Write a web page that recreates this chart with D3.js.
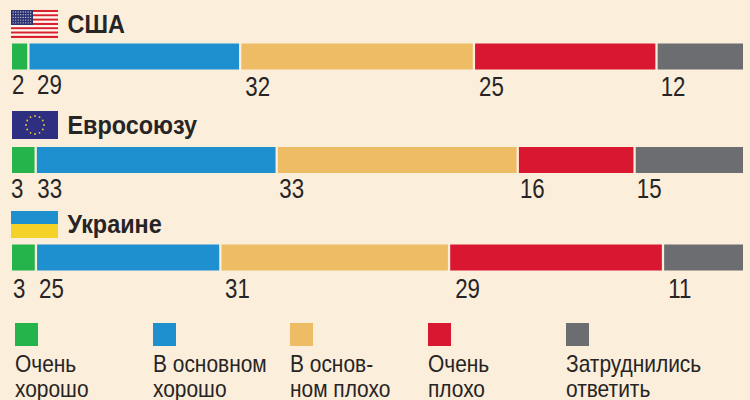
<!DOCTYPE html>
<html>
<head>
<meta charset="utf-8">
<script src="https://cdnjs.cloudflare.com/ajax/libs/d3/7.8.5/d3.min.js"></script>
<style>
  html, body { margin: 0; padding: 0; background: #fbeeda; }
  svg { display: block; }
  text { fill: #272425; font-family: "Liberation Sans", sans-serif; }
</style>
</head>
<body>
<div id="chart"></div>
<script>
const countries = ['США', 'Евросоюзу', 'Украине'];
const answers = ['Очень хорошо', 'В основном хорошо', 'В основном плохо', 'Очень плохо', 'Затруднились ответить'];
// the thin first segments are drawn a bit wider than their rounded label
const usaValues = [2.4, 29, 32, 25, 12];
const euValues = [3.4, 33, 33, 16, 15];
const ukraineValues = [3.4, 25, 31, 29, 11];
const answerColors = ['#25b44c', '#1e90d0', '#eebc65', '#d91731', '#6c6d71'];
const legendLines = [['Очень', 'хорошо'], ['В основном', 'хорошо'], ['В основ-', 'ном плохо'], ['Очень', 'плохо'], ['Затруднились', 'ответить']];

const svg = d3.select('#chart').append('svg').attr('width', 750).attr('height', 400);

const rows = [
  { name: countries[0], values: usaValues, barY: 43.5, titleY: 33, labelY: [94, 94, 96, 96, 96], nudge: [0, 7.5, 4, 4, 3] },
  { name: countries[1], values: euValues, barY: 147, titleY: 134, labelY: [198, 198, 198, 198, 198], nudge: [-1, 0.5, 1.5, 1, 1] },
  { name: countries[2], values: ukraineValues, barY: 244.5, titleY: 233, labelY: [298, 298, 298, 298, 298], nudge: [1, 2, 3.5, 5, 4] }
];

const barHeight = 26, gap = 2.3;

rows.forEach(row => {
  const total = d3.sum(row.values);
  const x = d3.scaleLinear().domain([0, total]).range([12, 743 + gap]);
  const starts = [0, ...d3.cumsum(row.values)];

  const g = svg.append('g');
  g.selectAll('rect')
    .data(row.values)
    .join('rect')
    .attr('x', (d, i) => x(starts[i]))
    .attr('y', row.barY)
    .attr('width', d => x(d) - x(0) - gap)
    .attr('height', barHeight)
    .attr('fill', (d, i) => answerColors[i]);

  g.selectAll('text.val')
    .data(row.values)
    .join('text')
    .attr('class', 'val')
    .attr('transform', (d, i) => `translate(${x(starts[i]) + row.nudge[i]},${row.labelY[i]}) scale(0.81,1)`)
    .attr('font-size', 27.5)
    .text(d => Math.round(d));

  svg.append('text')
    .attr('transform', `translate(67.5,${row.titleY}) scale(0.9,1)`)
    .attr('font-size', 26)
    .attr('font-weight', 'bold')
    .text(row.name);
});

// flags
const usa = svg.append('g').attr('transform', 'translate(11,10)');
const stripe = d3.scaleBand().domain(d3.range(13)).range([0, 28]);
usa.selectAll('rect')
  .data(d3.range(13))
  .join('rect')
  .attr('x', 0)
  .attr('y', d => stripe(d))
  .attr('width', 47)
  .attr('height', stripe.bandwidth())
  .attr('fill', d => d % 2 ? '#fdf6ee' : '#d9202f');
usa.append('rect').attr('width', 22).attr('height', 15).attr('fill', '#2c3170');
d3.range(5).forEach(r => {
  usa.selectAll('circle.r' + r)
    .data(d3.range(8))
    .join('circle')
    .attr('class', 'r' + r)
    .attr('cx', d => 2.2 + d * 2.5)
    .attr('cy', 2 + r * 2.7)
    .attr('r', 0.65)
    .attr('fill', '#c9cbdc');
});

const eu = svg.append('g').attr('transform', 'translate(12,111)');
eu.append('rect').attr('width', 46).attr('height', 28).attr('fill', '#2e2f80');
eu.selectAll('circle')
  .data(d3.range(12))
  .join('circle')
  .attr('cx', d => 23 + 9 * Math.sin(d * Math.PI / 6))
  .attr('cy', d => 14 - 9 * Math.cos(d * Math.PI / 6))
  .attr('r', 0.9)
  .attr('fill', '#f0c93a');

const ua = svg.append('g').attr('transform', 'translate(11,211)');
ua.append('rect').attr('width', 47).attr('height', 13).attr('fill', '#1e90d0');
ua.append('rect').attr('y', 13).attr('width', 47).attr('height', 14).attr('fill', '#f5d227');

// legend
const legendPos = [15, 153, 290, 428, 566];
const legend = svg.selectAll('g.legend')
  .data(answers)
  .join('g')
  .attr('class', 'legend')
  .attr('transform', (d, i) => `translate(${legendPos[i]},0)`);
legend.append('rect')
  .attr('y', 323)
  .attr('width', 23)
  .attr('height', 23)
  .attr('fill', (d, i) => answerColors[i]);
legend.each(function(d, i) {
  d3.select(this).selectAll('text')
    .data(legendLines[i])
    .join('text')
    .attr('transform', (l, j) => `translate(0,${372 + j * 24.5}) scale(0.91,1)`)
    .attr('font-size', 23)
    .text(l => l);
});
</script>
</body>
</html>
